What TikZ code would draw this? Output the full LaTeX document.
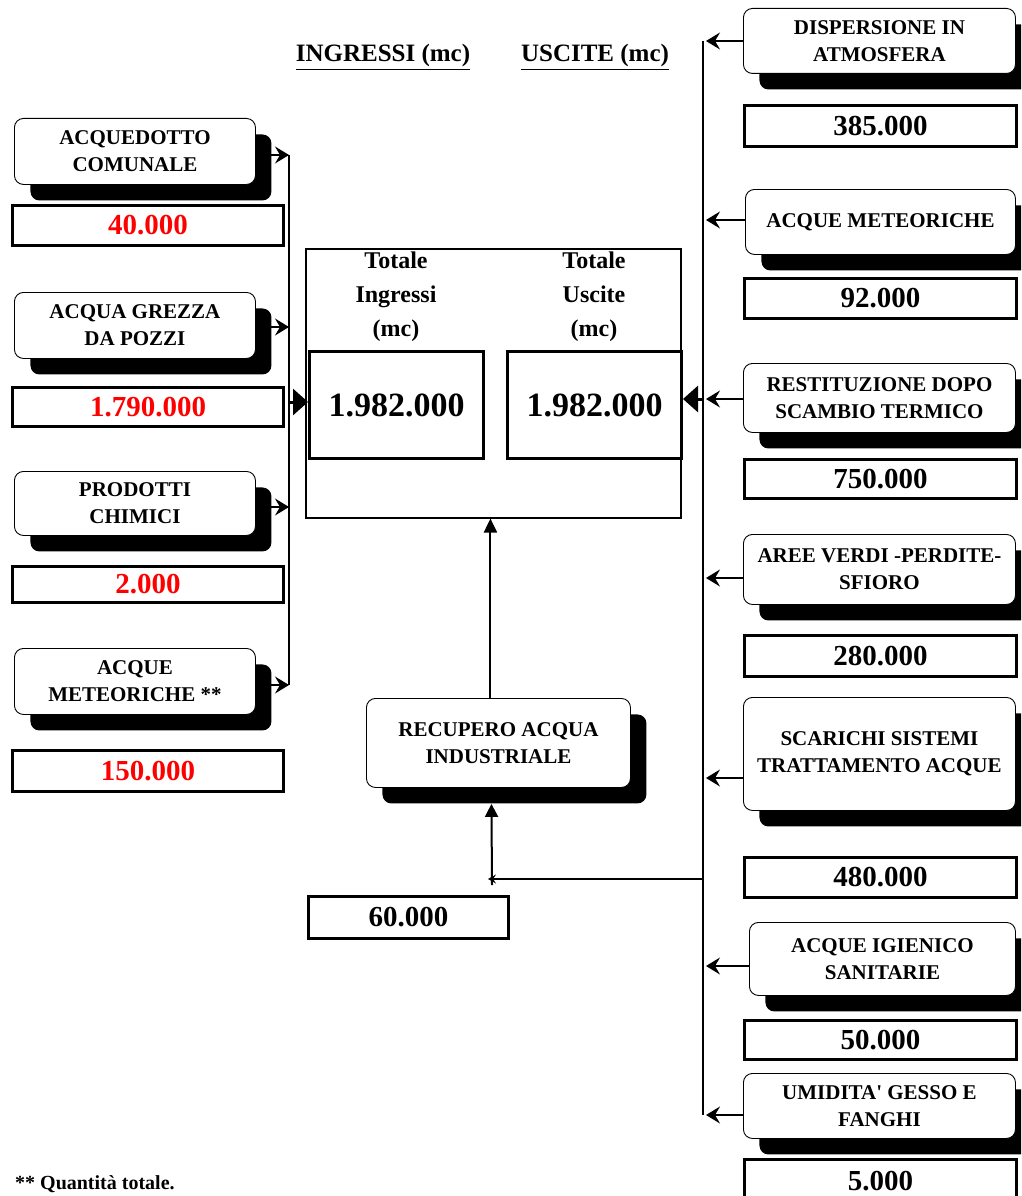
\documentclass[tikz,border=0pt]{standalone}
\usepackage{fontspec}
\setmainfont{Liberation Serif}[Ligatures=TeXOff]
\usetikzlibrary{arrows.meta,shadows}
\newcommand\lblfont{\fontsize{21}{27}\selectfont\bfseries}
\newcommand\numfont{\fontsize{29}{34}\selectfont\bfseries}
\newcommand\bignumfont{\fontsize{34}{40}\selectfont\bfseries}
\newcommand\totfont{\fontsize{24}{34}\selectfont\bfseries}
\newcommand\hdfont{\fontsize{25}{30}\selectfont\bfseries}
\newcommand\fnfont{\fontsize{20}{24}\selectfont\bfseries}
\begin{document}
\begin{tikzpicture}[x=1pt,y=-1pt,
  lbl/.style={draw, line width=0.9pt, fill=white, rounded corners=9pt, align=center,
    font=\lblfont, anchor=north west, inner sep=2pt,
    drop shadow={shadow xshift=16pt,shadow yshift=-16pt,opacity=1,fill=black}},
  val/.style={draw, line width=3pt, fill=white, align=center, font=\numfont,
    anchor=north west, inner sep=0pt},
  redval/.style={val, text=red},
  inbox/.style={draw, line width=3pt, align=center, font=\bignumfont,
    anchor=north west, inner sep=0pt},
  arr/.style={line width=1.2pt, -{Stealth[length=14pt,width=17pt,inset=5pt]}},
  bigarr/.style={line width=3pt, -{Triangle[length=15pt,width=26pt]}},
  smallarr/.style={line width=2pt, -{Triangle[length=13pt,width=13pt]}},
  vline/.style={line width=2pt}
]
\useasboundingbox (0,0) rectangle (1021,1196);
\clip (0,0) rectangle (1021,1196);

% headers
\node[font=\hdfont, anchor=base] (hin) at (383,62) {\underline{INGRESSI (mc)}};
\node[font=\hdfont, anchor=base] (hout) at (595,62) {\underline{USCITE (mc)}};

% left column
\node[lbl, minimum width=241pt, minimum height=66pt] (a1) at (14,118) {ACQUEDOTTO\\COMUNALE};
\node[redval, minimum width=271pt, minimum height=40pt] (v1) at (11,204) {40.000};
\node[lbl, minimum width=241pt, minimum height=66pt] (a2) at (14,292) {ACQUA GREZZA\\DA POZZI};
\node[redval, minimum width=271pt, minimum height=39pt] (v2) at (11,386) {1.790.000};
\node[lbl, minimum width=241pt, minimum height=64pt] (a3) at (14,471) {PRODOTTI\\CHIMICI};
\node[redval, minimum width=271pt, minimum height=36pt] (v3) at (11,565) {2.000};
\node[lbl, minimum width=241pt, minimum height=66pt] (a4) at (14,648) {ACQUE\\METEORICHE **};
\node[redval, minimum width=271pt, minimum height=41pt] (v4) at (11,749) {150.000};

% central box
\node[draw, line width=1.5pt, anchor=north west, minimum width=375pt, minimum height=269pt, inner sep=0pt] (big) at (305,248) {};
\node[inbox, minimum width=174pt, minimum height=107pt] (tin) at (308,350) {1.982.000};
\node[inbox, minimum width=174pt, minimum height=107pt] (tout) at (506,350) {1.982.000};
\node[font=\totfont, align=center, anchor=north, inner sep=0pt] (tit1) at (396,252) {Totale\\Ingressi\\(mc)};
\node[font=\totfont, align=center, anchor=north, inner sep=0pt] (tit2) at (594,252) {Totale\\Uscite\\(mc)};

% left collector
\coordinate (l1) at (289,155);
\coordinate (l2) at (289,327);
\coordinate (l3) at (289,507);
\coordinate (l4) at (289,685);
\coordinate (lm) at (289,402);
\draw[vline] (l1) -- (l4);
\draw[arr] (a1.east |- l1) -- (l1);
\draw[arr] (a2.east |- l2) -- (l2);
\draw[arr] (a3.east |- l3) -- (l3);
\draw[arr] (a4.east |- l4) -- (l4);
\draw[bigarr] (lm) -- (tin.west |- lm);

% right column
\node[lbl, minimum width=272pt, minimum height=65pt] (d1) at (743,8) {DISPERSIONE IN\\ATMOSFERA};
\node[val, minimum width=272pt, minimum height=41pt] (w1) at (743,104) {385.000};
\node[lbl, minimum width=270pt, minimum height=65pt] (d2) at (745,189) {ACQUE METEORICHE};
\node[val, minimum width=272pt, minimum height=40pt] (w2) at (743,277) {92.000};
\node[lbl, minimum width=272pt, minimum height=69pt] (d3) at (743,363) {RESTITUZIONE DOPO\\SCAMBIO TERMICO};
\node[val, minimum width=272pt, minimum height=39pt] (w3) at (743,458) {750.000};
\node[lbl, minimum width=272pt, minimum height=70pt] (d4) at (743,534) {AREE VERDI -PERDITE-\\SFIORO};
\node[val, minimum width=272pt, minimum height=41pt] (w4) at (743,634) {280.000};
\node[lbl, minimum width=272pt, minimum height=113pt] (d5) at (743,697) {SCARICHI SISTEMI\\TRATTAMENTO ACQUE};
\node[val, minimum width=272pt, minimum height=40pt] (w5) at (743,856) {480.000};
\node[lbl, minimum width=266pt, minimum height=73pt] (d6) at (749,922) {ACQUE IGIENICO\\SANITARIE};
\node[val, minimum width=272pt, minimum height=39pt] (w6) at (743,1019) {50.000};
\node[lbl, minimum width=272pt, minimum height=65pt] (d7) at (743,1073) {UMIDITA' GESSO E\\FANGHI};
\node[val, minimum width=272pt, minimum height=46pt] (w7) at (743,1158) {\raisebox{3pt}{5.000}};

% right collector
\coordinate (rt) at (703,41);
\coordinate (rb) at (703,1115);
\draw[vline] (rt) -- (rb);
\coordinate (r1) at (706,41);
\coordinate (r2) at (706,220);
\coordinate (r3) at (706,399);
\coordinate (r4) at (706,578);
\coordinate (r5) at (706,778);
\coordinate (r6) at (706,966);
\coordinate (r7) at (706,1115);
\draw[arr] (d1.west |- r1) -- (r1);
\draw[arr] (d2.west |- r2) -- (r2);
\draw[arr] (d3.west |- r3) -- (r3);
\draw[arr] (d4.west |- r4) -- (r4);
\draw[arr] (d5.west |- r5) -- (r5);
\draw[arr] (d6.west |- r6) -- (r6);
\draw[arr] (d7.west |- r7) -- (r7);
\coordinate (rm) at (703,399);
\draw[bigarr] (rm) -- (tout.east |- rm);

% recupero
\node[lbl, minimum width=264pt, minimum height=89pt] (rec) at (366,698) {RECUPERO ACQUA\\INDUSTRIALE};
\node[val, minimum width=200pt, minimum height=42pt] (w60) at (307,895) {60.000};
\coordinate (h1) at (703,879);
\coordinate (h2) at (488,879);
\coordinate (h3) at (492,885);
\draw[line width=2pt, -{Stealth[length=8pt,width=9pt,inset=3pt]}] (h1) -- (h2);
\draw[smallarr] (h3) -- ([xshift=-7pt,yshift=-16pt]rec.south);
\draw[line width=2pt, -{Triangle[length=14pt,width=13pt]}] ([xshift=-8pt]rec.north) -- ([xshift=-8pt]rec.north |- big.south);

% footnote
\node[font=\fnfont, anchor=base west, inner sep=0pt] (fn) at (15,1189) {** Quantità totale.};
\end{tikzpicture}
\end{document}
